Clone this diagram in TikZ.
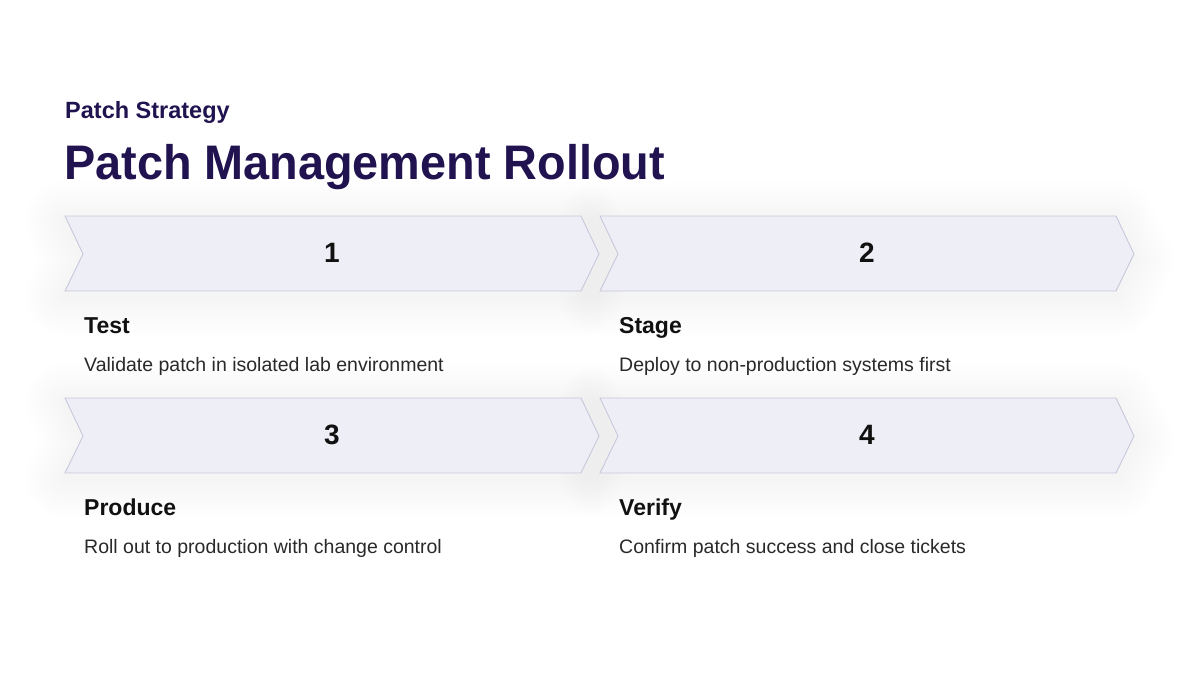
\documentclass[tikz,border=0pt]{standalone}
\usepackage{fontspec}
\setmainfont{Liberation Sans}
\definecolor{titlecol}{HTML}{21134F}
\definecolor{chevfill}{HTML}{EEEEF6}
\definecolor{chevdraw}{HTML}{C9C7DB}
\definecolor{txt}{HTML}{111111}
\tikzset{
  chev/.style={fill=chevfill, draw=chevdraw, line width=0.9pt, line join=miter},
  num/.style={font=\bfseries\fontsize{28}{30}\selectfont, text=txt, anchor=center},
  head/.style={font=\bfseries\fontsize{23}{26}\selectfont, text=txt, anchor=base west, inner sep=0pt},
  desc/.style={font=\fontsize{19.5}{22}\selectfont, text=txt!90, anchor=base west, inner sep=0pt},
}
\newcommand{\chevpath}[2]{(#1,#2) -- ++(516,0) -- ++(18,38) -- ++(-18,37) -- ++(-516,0) -- ++(18,-37) -- cycle}
\begin{document}
\begin{tikzpicture}[x=1pt,y=-1pt]
\useasboundingbox (0,0) rectangle (1200,675);
\fill[white] (0,0) rectangle (1200,675);
\node[font=\bfseries\fontsize{23.5}{26}\selectfont, text=titlecol, anchor=base west, inner sep=0pt] (sub) at (65,118) {Patch Strategy};
\node[font=\bfseries\fontsize{48.5}{52}\selectfont, text=titlecol, anchor=base west, inner sep=0pt] (title) at (64,179) {\scalebox{0.965}[1]{Patch Management Rollout}};
% soft shadows
\foreach \x/\y in {65/216, 600/216, 65/398, 600/398}{
  \foreach \w in {80,72,...,8}{
    \draw[black, opacity=0.0035, line width=\w pt, line join=round] \chevpath{\x}{\y+5};
  }
}
% chevrons
\foreach \x/\y in {65/216, 600/216, 65/398, 600/398}{
  \draw[chev] \chevpath{\x}{\y};
}
\node[num] (n1) at (332,253) {1};
\node[num] (n2) at (867,253) {2};
\node[num] (n3) at (332,435) {3};
\node[num] (n4) at (867,435) {4};
\node[head] (h1) at (84,333) {Test};
\node[head] (h2) at (619,333) {Stage};
\node[head] (h3) at (84,515) {Produce};
\node[head] (h4) at (619,515) {Verify};
\node[desc] (d1) at (84,371) {Validate patch in isolated lab environment};
\node[desc] (d2) at (619,371) {Deploy to non-production systems first};
\node[desc] (d3) at (84,553) {Roll out to production with change control};
\node[desc] (d4) at (619,553) {Confirm patch success and close tickets};
\end{tikzpicture}
\end{document}
